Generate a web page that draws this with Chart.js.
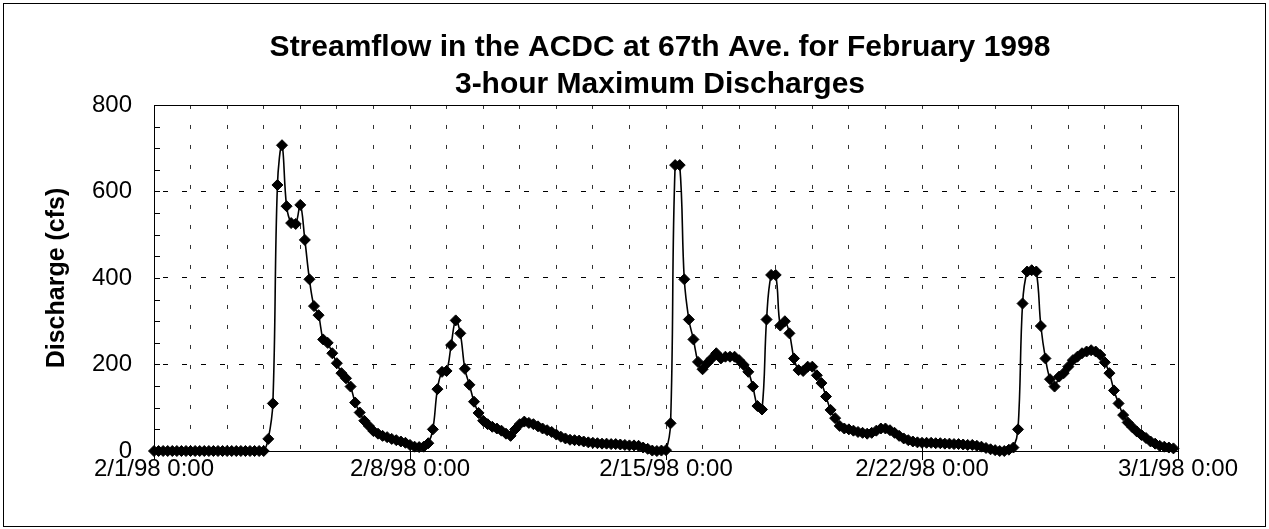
<!DOCTYPE html>
<html>
<head>
<meta charset="utf-8">
<script src="https://cdn.jsdelivr.net/npm/chart.js@4.4.0/dist/chart.umd.min.js"></script>
<style>
  html, body { margin: 0; padding: 0; background: #fff; }
</style>
</head>
<body>
<canvas id="flowChart" width="1269" height="529"></canvas>
<script>
// 3-hour maximum discharge (cfs), 8 readings per day, 2/1/98 0:00 .. 2/28/98 21:00
const discharge = [
  0, 0, 0, 0, 0, 0, 0, 0,
  0, 0, 0, 0, 0, 0, 0, 0,
  0, 0, 0, 0, 0, 0, 0, 0,
  0, 28, 110, 615, 707, 566, 527, 525,
  569, 488, 397, 335, 314, 258, 250, 226,
  203, 180, 168, 149, 112, 89, 70, 58,
  46, 40, 35, 32, 28, 25, 22, 19,
  14, 10, 9, 10, 18, 50, 143, 183,
  185, 245, 302, 272, 190, 153, 114, 88,
  70, 62, 56, 52, 47, 40, 35, 50,
  62, 68, 65, 62, 57, 52, 48, 44,
  38, 33, 29, 26, 25, 24, 22, 20,
  19, 18, 17, 17, 16, 16, 15, 14,
  13, 13, 12, 8, 5, 1, 0, 1,
  2, 64, 661, 661, 397, 304, 258, 206,
  189, 203, 214, 226, 214, 218, 218, 218,
  210, 199, 183, 149, 104, 96, 304, 407,
  407, 290, 300, 272, 214, 187, 185, 195,
  195, 175, 157, 126, 95, 76, 58, 52,
  50, 47, 44, 42, 40, 42, 47, 52,
  52, 48, 42, 35, 29, 25, 22, 20,
  19, 19, 19, 18, 18, 17, 17, 16,
  16, 15, 14, 14, 12, 10, 7, 4,
  2, 0, 0, 3, 8, 50, 341, 415,
  418, 415, 289, 214, 166, 149, 172, 180,
  195, 210, 218, 226, 230, 233, 230, 222,
  205, 180, 140, 110, 83, 66, 55, 45,
  37, 30, 22, 17, 12, 10, 8, 6
];
const readingsPerDay = 8;

// x axis runs in days from 2/1/98 0:00
const xTickDays = [0, 7, 14, 21, 28];
const xTickLabels = ["2/1/98 0:00", "2/8/98 0:00", "2/15/98 0:00", "2/22/98 0:00", "3/1/98 0:00"];
const yTicks = [0, 200, 400, 600, 800];

const titleLines = ["Streamflow in the ACDC at 67th Ave. for February 1998", "3-hour Maximum Discharges"];
const yTitle = "Discharge (cfs)";

const points = discharge.map((v, i) => ({ x: i / readingsPerDay, y: v }));
const FONT = "'Liberation Sans', Arial, sans-serif";

const framePlugin = {
  id: "frame",
  beforeDraw(chart) {
    const ctx = chart.ctx;
    ctx.save();
    ctx.fillStyle = "#fff";
    ctx.fillRect(0, 0, chart.width, chart.height);
    ctx.restore();
  },
  afterLayout(chart) {
    // excel centres the title a little right of the canvas middle
    const t = chart.titleBlock;
    if (t) {
      const shift = 660 - (t.left + t.right) / 2;
      t.left += shift;
      t.right += shift;
    }
  },
  beforeDatasetsDraw(chart) {
    const { ctx, chartArea: a, scales } = chart;
    ctx.save();
    ctx.strokeStyle = "#000";
    ctx.lineWidth = 1;
    ctx.strokeRect(Math.round(a.left) + 0.5, Math.round(a.top) + 0.5,
      Math.round(a.right - a.left), Math.round(a.bottom - a.top));
    // small inner ticks on the value axis every 50
    ctx.beginPath();
    for (let v = 50; v < 800; v += 50) {
      const py = Math.round(scales.y.getPixelForValue(v)) + 0.5;
      ctx.moveTo(a.left, py);
      ctx.lineTo(a.left + 6, py);
    }
    // major ticks across the time axis
    xTickDays.forEach((d) => {
      const px = Math.round(scales.x.getPixelForValue(d)) + 0.5;
      ctx.moveTo(px, a.bottom - 8);
      ctx.lineTo(px, a.bottom + 9);
    });
    ctx.stroke();
    ctx.restore();
  },
  afterDraw(chart) {
    const ctx = chart.ctx;
    ctx.save();
    ctx.strokeStyle = "#000";
    ctx.lineWidth = 1;
    ctx.strokeRect(3.5, 3.5, chart.width - 7, chart.height - 6);
    ctx.restore();
  }
};

new Chart(document.getElementById("flowChart"), {
  type: "line",
  data: {
    datasets: [{
      label: "Discharge",
      data: points,
      borderColor: "#000",
      borderWidth: 1.6,
      backgroundColor: "#000",
      pointStyle: "rectRot",
      pointRadius: 5.5,
      pointBorderWidth: 1,
      pointBackgroundColor: "#000",
      pointBorderColor: "#000",
      tension: 0.4,
      clip: 12
    }]
  },
  options: {
    responsive: false,
    animation: false,
    devicePixelRatio: 1,
    layout: { padding: { left: 0, right: 91, top: 0, bottom: 0 } },
    plugins: {
      legend: { display: false },
      tooltip: { enabled: false },
      title: {
        display: true,
        text: titleLines,
        color: "#000",
        font: { family: FONT, size: 30, weight: "bold", lineHeight: 1.233 },
        padding: { top: 29, bottom: 2 }
      }
    },
    scales: {
      x: {
        type: "linear",
        min: 0,
        max: 28,
        afterFit: (s) => { s.height = 78; },
        afterBuildTicks: (s) => {
          s.ticks = Array.from({ length: 29 }, (_, d) => ({ value: d }));
        },
        ticks: {
          autoSkip: false,
          maxRotation: 0,
          padding: 4,
          color: "#000",
          font: { family: FONT, size: 24 },
          callback: (v) => {
            const k = xTickDays.indexOf(v);
            return k >= 0 ? xTickLabels[k] : "";
          }
        },
        grid: {
          drawTicks: false,
          color: (c) => (c.tick && (c.tick.value === 0 || c.tick.value === 28) ? "rgba(0,0,0,0)" : "#333"),
          lineWidth: 1
        },
        border: { display: false, dash: [4, 16] }
      },
      y: {
        min: 0,
        max: 800,
        afterFit: (s) => { s.width = 154; },
        afterBuildTicks: (s) => { s.ticks = yTicks.map((v) => ({ value: v })); },
        ticks: {
          padding: 22,
          color: "#000",
          font: { family: FONT, size: 24 }
        },
        grid: {
          drawTicks: false,
          color: (c) => (c.tick && (c.tick.value === 0 || c.tick.value === 800) ? "rgba(0,0,0,0)" : "#000"),
          lineWidth: 1
        },
        border: { display: false, dash: [5, 14], dashOffset: 10 },
        title: {
          display: true,
          text: yTitle,
          color: "#000",
          font: { family: FONT, size: 25, weight: "bold", lineHeight: 1.2 },
          padding: { top: 42, bottom: 0 }
        }
      }
    }
  },
  plugins: [framePlugin]
});
</script>
</body>
</html>
